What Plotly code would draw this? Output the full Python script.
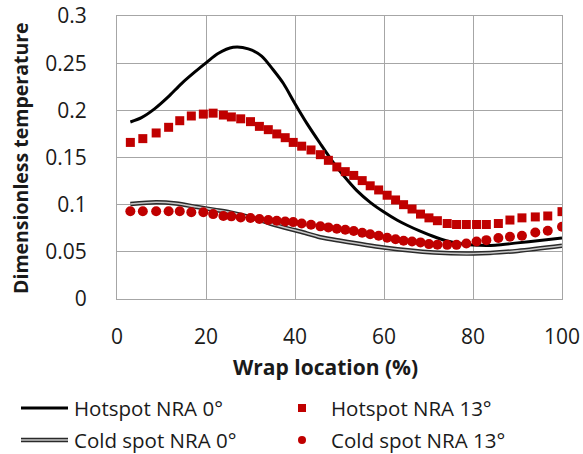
import plotly.graph_objects as go

# Wrap location (%) and dimensionless temperature readings
hot0_x = [3, 5.5, 8.5, 11.5, 14.5, 17.5, 20, 22.7, 26.1, 29.5, 32.5, 35, 37.4, 40,
          42.7, 45.7, 48.3, 50.9, 53.9, 56.9, 59.9, 63, 65.2, 68, 71, 74, 77, 80,
          85, 90, 95, 100]
hot0_y = [0.1876, 0.1922, 0.2018, 0.2142, 0.2284, 0.2407, 0.2503, 0.2603, 0.2668,
          0.2652, 0.2575, 0.2435, 0.2284, 0.207, 0.1859, 0.1646, 0.1468, 0.1309,
          0.1149, 0.1025, 0.0925, 0.0835, 0.0782, 0.0722, 0.0665, 0.0618, 0.0588,
          0.0572, 0.057, 0.0595, 0.062, 0.0646]

cold0_x = [3, 8.8, 13.3, 18, 22, 25.4, 31.4, 34.4, 38.9, 41.1, 45.7, 50.2, 59.9,
           71.2, 80.2, 90, 100]
cold0_y = [0.1007, 0.1025, 0.1012, 0.0975, 0.0945, 0.0918, 0.0848, 0.0800, 0.0741,
           0.0716, 0.0655, 0.0617, 0.0546, 0.0493, 0.0482, 0.051, 0.0564]

nra13_x = [3.0, 5.8, 8.8, 11.6, 14.1, 16.7, 19.4, 21.6, 23.9, 25.7, 27.8, 30.0,
           32.0, 34.0, 35.9, 37.8, 39.6, 41.5, 43.6, 45.7, 47.5, 49.4, 51.3, 53.2,
           55.1, 56.9, 58.8, 60.7, 62.6, 64.4, 66.3, 68.2, 70.1, 72.0, 74.2, 76.3,
           78.5, 80.8, 83.0, 85.7, 88.3, 91.0, 94.0, 96.8, 100]
hot13_y = [0.166, 0.170, 0.176, 0.182, 0.189, 0.194, 0.196, 0.197, 0.195, 0.193,
           0.191, 0.188, 0.183, 0.1795, 0.175, 0.171, 0.166, 0.162, 0.158, 0.153,
           0.147, 0.140, 0.135, 0.131, 0.1255, 0.120, 0.1156, 0.110, 0.105, 0.100,
           0.0954, 0.090, 0.086, 0.083, 0.080, 0.079, 0.079, 0.079, 0.079, 0.080,
           0.0837, 0.086, 0.087, 0.088, 0.0926]
cold13_y = [0.093, 0.093, 0.093, 0.093, 0.093, 0.092, 0.092, 0.090, 0.088, 0.0876,
            0.0865, 0.0859, 0.0848, 0.0837, 0.083, 0.0822, 0.0815, 0.080, 0.0787,
            0.077, 0.0759, 0.0745, 0.0735, 0.072, 0.0703, 0.0686, 0.067, 0.065,
            0.0633, 0.0617, 0.061, 0.060, 0.0582, 0.0576, 0.0574, 0.0574, 0.0588,
            0.061, 0.0624, 0.0646, 0.066, 0.067, 0.0705, 0.0723, 0.0766]

x_ticks = [0, 20, 40, 60, 80, 100]
y_ticks = [0, 0.05, 0.1, 0.15, 0.2, 0.25, 0.3]
y_tick_text = ["0", "0.05", "0.1", "0.15", "0.2", "0.25", "0.3"]

series_names = ["Hotspot NRA 0°", "Cold spot NRA 0°", "Hotspot NRA 13°", "Cold spot NRA 13°"]

RED = "#C00000"
GRID = "#A6A6A6"
FONT = "Open Sans"
TXT = "#1a1a1a"

W, H = 583, 454
ML, MR, MT, MB = 117, 21, 16, 155
PW, PH = W - ML - MR, H - MT - MB


def px(xp):
    return (xp - ML) / PW


def py(yp):
    return (H - MB - yp) / PH


fig = go.Figure()
fig.add_trace(go.Scatter(x=hot0_x, y=hot0_y, mode="lines", name=series_names[0],
                         line=dict(color="black", width=3, shape="spline", smoothing=0.8)))
# double line: dark outer stroke with a light core
fig.add_trace(go.Scatter(x=cold0_x, y=cold0_y, mode="lines", name=series_names[1],
                         line=dict(color="#2a2a2a", width=4.5, shape="spline", smoothing=0.8)))
fig.add_trace(go.Scatter(x=cold0_x, y=cold0_y, mode="lines", showlegend=False,
                         line=dict(color="#c8c8c8", width=1.6, shape="spline", smoothing=0.8)))
fig.add_trace(go.Scatter(x=nra13_x, y=hot13_y, mode="markers", name=series_names[2],
                         marker=dict(symbol="square", size=9, color=RED)))
fig.add_trace(go.Scatter(x=nra13_x, y=cold13_y, mode="markers", name=series_names[3],
                         marker=dict(symbol="circle", size=10, color=RED)))

axis_common = dict(showgrid=True, gridcolor=GRID, gridwidth=1, showline=True,
                   linecolor=GRID, linewidth=1, mirror=True, zeroline=False, ticks="",
                   automargin=False,
                   tickfont=dict(family=FONT, size=21, color=TXT))
fig.update_xaxes(range=[0, 100], tickvals=x_ticks, ticklabelstandoff=19, **axis_common)
fig.update_yaxes(range=[0, 0.3], tickvals=y_ticks, ticktext=y_tick_text,
                 ticklabelstandoff=25, **axis_common)

annotations = [
    dict(text="<b>Wrap location (%)</b>", x=px(325), y=py(367), xref="paper", yref="paper",
         showarrow=False, xanchor="center", yanchor="middle",
         font=dict(family=FONT, size=21, color=TXT)),
    dict(text="<b>Dimensionless temperature</b>", x=px(20), y=py(158), xref="paper",
         yref="paper", showarrow=False, textangle=-90, xanchor="center", yanchor="middle",
         font=dict(family=FONT, size=19.5, color=TXT)),
]

shapes = []
# legend entries, laid out in two columns
rows_y = [408, 440]
for i, name in enumerate(series_names):
    col = i // 2
    row = i % 2
    ycen = rows_y[row]
    tx = 72 if col == 0 else 329
    annotations.append(dict(text=name, x=px(tx), y=py(ycen), xref="paper", yref="paper",
                            showarrow=False, xanchor="left", yanchor="middle",
                            font=dict(family=FONT, size=20.5, color=TXT)))
    if i == 0:
        shapes.append(dict(type="line", xref="paper", yref="paper", x0=px(21), x1=px(68),
                           y0=py(ycen), y1=py(ycen), line=dict(color="black", width=3)))
    elif i == 1:
        shapes.append(dict(type="line", xref="paper", yref="paper", x0=px(21), x1=px(68),
                           y0=py(ycen), y1=py(ycen), line=dict(color="#2a2a2a", width=4.5)))
        shapes.append(dict(type="line", xref="paper", yref="paper", x0=px(21), x1=px(68),
                           y0=py(ycen), y1=py(ycen), line=dict(color="#c8c8c8", width=1.6)))
    else:
        kind = "rect" if i == 2 else "circle"
        shapes.append(dict(type=kind, xref="paper", yref="paper", xsizemode="pixel",
                           ysizemode="pixel", xanchor=px(302), yanchor=py(ycen),
                           x0=-4, x1=4, y0=-4, y1=4, fillcolor=RED,
                           line=dict(color=RED, width=0)))

fig.update_layout(width=W, height=H, margin=dict(l=ML, r=MR, t=MT, b=MB),
                  paper_bgcolor="white", plot_bgcolor="white", showlegend=False,
                  annotations=annotations, shapes=shapes)

fig.write_html("out.html")
